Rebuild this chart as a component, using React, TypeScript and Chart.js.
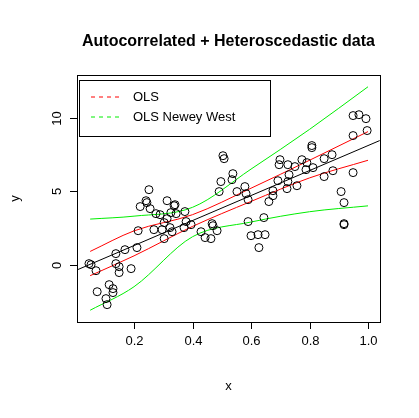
import { useEffect, useRef } from "react";
import { Chart, registerables } from "chart.js";

Chart.register(...registerables);

// scatter points
const pointX = [0.046, 0.053, 0.070, 0.074, 0.104, 0.108, 0.115, 0.128, 0.128, 0.138, 0.138, 0.149, 0.149, 0.169, 0.190, 0.210, 0.214, 0.221, 0.241, 0.244, 0.251, 0.255, 0.268, 0.275, 0.289, 0.296, 0.303, 0.303, 0.313, 0.313, 0.323, 0.326, 0.330, 0.337, 0.340, 0.344, 0.371, 0.374, 0.378, 0.395, 0.429, 0.443, 0.463, 0.467, 0.470, 0.484, 0.491, 0.497, 0.504, 0.508,
  0.538, 0.535, 0.552, 0.579, 0.583, 0.590, 0.590, 0.600, 0.624, 0.648, 0.627, 0.644, 0.661, 0.675, 0.675, 0.692, 0.696, 0.699, 0.726, 0.730, 0.726, 0.723, 0.750, 0.757, 0.774, 0.791, 0.788, 0.808, 0.808, 0.812, 0.850, 0.850, 0.877, 0.880, 0.908, 0.918, 0.918, 0.918, 0.949, 0.949, 0.969, 0.993, 0.997, 0.949];
const pointY = [0.07, 0.0, -0.41, -1.84, -2.31, -2.72, -1.36, -1.63, -1.90, 0.75, 0.07, -0.14, -0.54, 1.02, -0.27, 1.16, 2.31, 3.95, 4.35, 4.22, 5.10, 3.81, 2.38, 3.47, 3.40, 2.38, 1.77, 2.86, 4.35, 3.13, 2.52, 3.54, 2.24, 4.01, 4.08, 3.47, 2.52, 3.61, 2.93, 2.72, 2.24, 1.84, 1.77, 2.79, 2.65, 2.31, 4.97, 5.65, 7.41, 7.21,
  6.19, 5.78, 4.97, 5.31, 4.83, 4.42, 2.93, 1.97, 2.04, 2.04, 1.16, 3.20, 4.29, 5.03, 4.69, 5.71, 6.80, 7.14, 6.80, 6.12, 5.65, 5.17, 6.67, 5.37, 7.14, 6.94, 6.46, 8.10, 7.96, 6.60, 7.21, 5.99, 7.48, 6.39, 4.97, 4.22, 2.79, 2.72, 8.78, 10.14, 10.20, 9.93, 9.12, 6.26];
// fitted line and bands
const fitX = [0.0, 1.04];
const fitY = [-0.4, 8.44];
const bandX = [0.05, 0.2, 0.4, 0.6, 0.8, 1.0];
const olsUpper = [0.9, 2.3, 3.4, 5.2, 7.1, 9.05];
const olsLower = [-0.75, 0.6, 2.6, 4.3, 5.9, 7.1];
const nwUpper = [3.1, 3.3, 3.9, 6.5, 9.2, 12.1];
const nwLower = [-3.1, -1.5, 1.9, 2.9, 3.6, 4.0];
const xTicks = [0.2, 0.4, 0.6, 0.8, 1.0];
const yTicks = [0, 5, 10];

const toXY = (xs: number[], ys: number[]) => xs.map((x, i) => ({ x, y: ys[i] }));
const FONT = "Liberation Sans, Arial, sans-serif";

const rFrame = {
  id: "rFrame",
  afterDraw(chart: any) {
    const { ctx, chartArea: a, scales } = chart;
    const xs = scales.x, ys = scales.y;
    ctx.save();
    ctx.strokeStyle = "#000";
    ctx.fillStyle = "#000";
    ctx.lineWidth = 1;
    ctx.strokeRect(a.left + 0.5, a.top + 0.5, a.right - a.left, a.bottom - a.top);
    ctx.font = `13px ${FONT}`;
    ctx.textAlign = "center";
    ctx.textBaseline = "top";
    ctx.beginPath();
    ctx.moveTo(xs.getPixelForValue(xTicks[0]), a.bottom + 0.5);
    ctx.lineTo(xs.getPixelForValue(xTicks[xTicks.length - 1]), a.bottom + 0.5);
    xTicks.forEach((t) => {
      const px = Math.round(xs.getPixelForValue(t)) + 0.5;
      ctx.moveTo(px, a.bottom);
      ctx.lineTo(px, a.bottom + 7);
      ctx.fillText(t.toFixed(1), px, a.bottom + 13);
    });
    ctx.stroke();
    ctx.beginPath();
    ctx.moveTo(a.left + 0.5, ys.getPixelForValue(yTicks[0]));
    ctx.lineTo(a.left + 0.5, ys.getPixelForValue(yTicks[yTicks.length - 1]));
    yTicks.forEach((t) => {
      const py = Math.round(ys.getPixelForValue(t)) + 0.5;
      ctx.moveTo(a.left, py);
      ctx.lineTo(a.left - 7, py);
      ctx.save();
      ctx.translate(a.left - 26, py);
      ctx.rotate(-Math.PI / 2);
      ctx.fillText(String(t), 0, 0);
      ctx.restore();
    });
    ctx.stroke();
    ctx.fillText("x", (a.left + a.right) / 2, a.bottom + 58);
    ctx.save();
    ctx.translate(a.left - 68, (a.top + a.bottom) / 2);
    ctx.rotate(-Math.PI / 2);
    ctx.fillText("y", 0, 0);
    ctx.restore();
    ctx.font = `bold 16px ${FONT}`;
    ctx.textBaseline = "middle";
    ctx.fillText("Autocorrelated + Heteroscedastic data", (a.left + a.right) / 2, 42);
    // legend
    ctx.fillStyle = "#fff";
    ctx.fillRect(a.left + 2, a.top + 5, 191, 56);
    ctx.strokeRect(a.left + 2.5, a.top + 5.5, 191, 56);
    ctx.font = `13px ${FONT}`;
    ctx.textAlign = "left";
    const items = [["OLS", "#ff0000"], ["OLS Newey West", "#00ee00"]];
    items.forEach(([label, col], i) => {
      const y = a.top + 22 + i * 20;
      ctx.strokeStyle = col;
      ctx.setLineDash([4, 4]);
      ctx.beginPath();
      ctx.moveTo(a.left + 14, y);
      ctx.lineTo(a.left + 42, y);
      ctx.stroke();
      ctx.setLineDash([]);
      ctx.fillStyle = "#000";
      ctx.fillText(label, a.left + 56, y);
    });
    ctx.restore();
  },
};

const line = (data: any, color: string) => ({
  type: "line" as const,
  data,
  borderColor: color,
  borderWidth: 1,
  pointRadius: 0,
  fill: false,
  cubicInterpolationMode: "monotone" as const,
});

export default function App() {
  const ref = useRef<HTMLCanvasElement>(null);
  useEffect(() => {
    document.body.style.margin = "0";
    if (!ref.current) return;
    const chart = new Chart(ref.current, {
      type: "scatter",
      data: {
        datasets: [
          {
            data: toXY(pointX, pointY),
            pointRadius: 4,
            pointBorderColor: "#000",
            pointBackgroundColor: "transparent",
            pointBorderWidth: 1,
          },
          line(toXY(fitX, fitY), "#000"),
          line(toXY(bandX, olsUpper), "#ff0000"),
          line(toXY(bandX, olsLower), "#ff0000"),
          line(toXY(bandX, nwUpper), "#00ee00"),
          line(toXY(bandX, nwLower), "#00ee00"),
        ],
      },
      options: {
        animation: false,
        responsive: false,
        layout: { padding: { left: 77, right: 39, top: 75, bottom: 96 } },
        scales: {
          x: { type: "linear", display: false, min: 0.005, max: 1.041 },
          y: { type: "linear", display: false, min: -3.9, max: 12.9 },
        },
        plugins: { legend: { display: false }, tooltip: { enabled: false } },
      },
      plugins: [rFrame],
    });
    return () => chart.destroy();
  }, []);
  return <canvas ref={ref} width={419} height={418} style={{ display: "block" }} />;
}
